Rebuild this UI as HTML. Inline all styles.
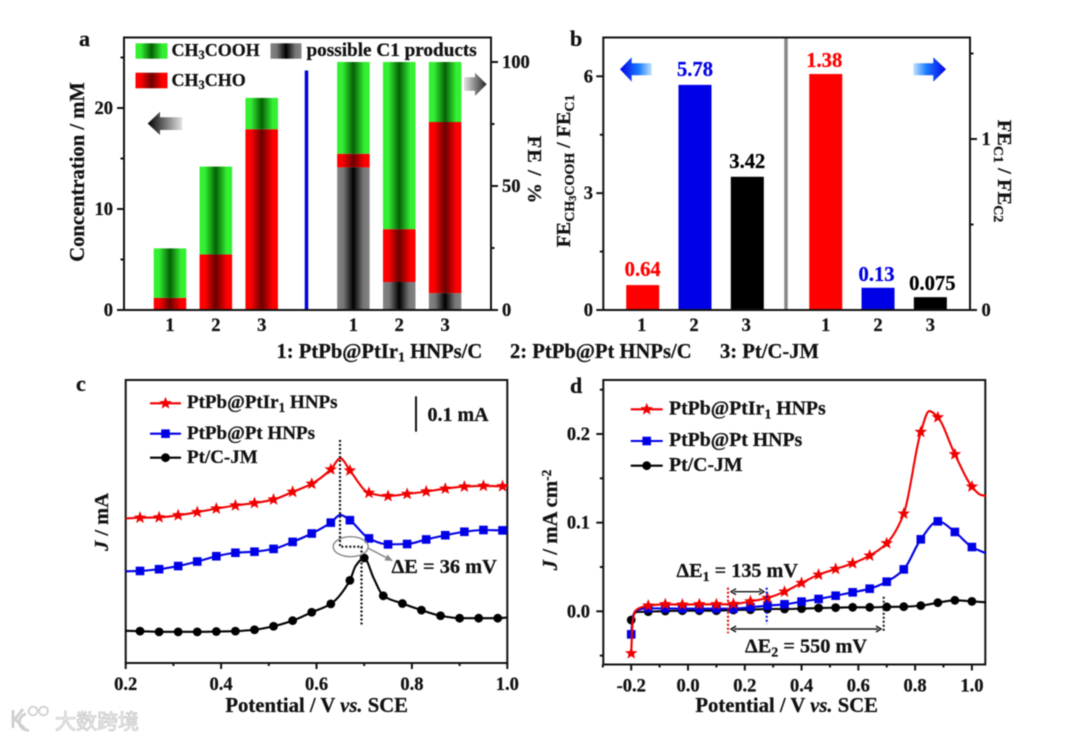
<!DOCTYPE html>
<html lang="en">
<head>
<meta charset="utf-8">
<title>Electrocatalysis composite figure</title>
<style>
html,body{margin:0;padding:0;background:#fff;}
svg{display:block;filter:blur(0.5px);}
text{font-family:"Liberation Serif","Noto Serif CJK SC",serif;font-weight:bold;fill:#111;stroke:#111;stroke-width:0.25px;}
</style>
</head>
<body>
<svg id="figure" xmlns="http://www.w3.org/2000/svg" width="1080" height="739" viewBox="0 0 1080 739">
<defs>
<linearGradient id="gGreen"><stop offset="0" stop-color="#33f033"/><stop offset=".16" stop-color="#33f033"/><stop offset=".5" stop-color="#056005"/><stop offset=".84" stop-color="#33f033"/><stop offset="1" stop-color="#33f033"/></linearGradient>
<linearGradient id="gRed"><stop offset="0" stop-color="#ff0000"/><stop offset=".16" stop-color="#ff0000"/><stop offset=".5" stop-color="#6a0000"/><stop offset=".84" stop-color="#ff0000"/><stop offset="1" stop-color="#ff0000"/></linearGradient>
<linearGradient id="gGrey"><stop offset="0" stop-color="#858585"/><stop offset=".2" stop-color="#757575"/><stop offset=".5" stop-color="#000000"/><stop offset=".8" stop-color="#757575"/><stop offset="1" stop-color="#858585"/></linearGradient>
<linearGradient id="gArrowBlackL"><stop offset="0" stop-color="#000"/><stop offset="1" stop-color="#e4e4e4"/></linearGradient>
<linearGradient id="gArrowBlackR"><stop offset="0" stop-color="#e4e4e4"/><stop offset="1" stop-color="#222"/></linearGradient>
<linearGradient id="gArrowBlueL"><stop offset="0" stop-color="#0000e8"/><stop offset=".6" stop-color="#1c7cff"/><stop offset="1" stop-color="#c4e4ff"/></linearGradient>
<linearGradient id="gArrowBlueR"><stop offset="0" stop-color="#c4e4ff"/><stop offset=".4" stop-color="#1c7cff"/><stop offset="1" stop-color="#0000e8"/></linearGradient>
</defs>
<rect x="0" y="0" width="1080" height="739" fill="#fff"/>

<!-- Panel a -->
<g id="panelA">
  <g id="aBars"></g>
  <line x1="306.5" y1="70.5" x2="306.5" y2="310" stroke="#0000e0" stroke-width="3.5"/>
  <rect x="124" y="37.5" width="367" height="272.5" fill="none" stroke="#111" stroke-width="2"/>
  <g id="aTicks"></g>
  <text x="79" y="46" font-size="22">a</text>
  <text transform="translate(84,172) rotate(-90)" text-anchor="middle" font-size="20.6">Concentration / mM</text>
  <text transform="translate(528,170) rotate(90)" text-anchor="middle" font-size="20.5" letter-spacing="1">FE / %</text>
  <rect x="135.5" y="43.3" width="32" height="15.4" fill="url(#gGreen)"/>
  <text x="171.5" y="56" font-size="18">CH<tspan font-size="12.5" dy="3">3</tspan><tspan dy="-3">COOH</tspan></text>
  <rect x="270.5" y="43.3" width="31" height="15.4" fill="url(#gGrey)"/>
  <text x="306.5" y="56" font-size="19.2">possible C1 products</text>
  <rect x="135.5" y="72.7" width="32" height="15.6" fill="url(#gRed)"/>
  <text x="171.5" y="86" font-size="18">CH<tspan font-size="12.5" dy="3">3</tspan><tspan dy="-3">CHO</tspan></text>
  <polygon points="147.7,123.5 160,111.7 160,117.3 182.3,117.3 182.3,130 160,130 160,135" fill="url(#gArrowBlackL)"/>
  <polygon points="464,77.3 475,77.3 475,72.7 486.7,84.3 475,96 475,90.7 464,90.7" fill="url(#gArrowBlackR)"/>
</g>

<!-- Panel b -->
<g id="panelB">
  <g id="bBars"></g>
  <line x1="786" y1="37.5" x2="786" y2="310" stroke="#888" stroke-width="3.5"/>
  <rect x="603.3" y="37.5" width="366.7" height="272.5" fill="none" stroke="#111" stroke-width="2"/>
  <g id="bTicks"></g>
  <text x="570" y="46" font-size="22">b</text>
  <text transform="translate(570,171) rotate(-90)" text-anchor="middle" font-size="20">FE<tspan font-size="14" dy="4">CH</tspan><tspan font-size="10.5" dy="2">3</tspan><tspan font-size="14" dy="-2">COOH</tspan><tspan dy="-4"> / FE</tspan><tspan font-size="14" dy="4">C1</tspan></text>
  <text transform="translate(998,171) rotate(90)" text-anchor="middle" font-size="20.5">FE<tspan font-size="14" dy="4">C1</tspan><tspan dy="-4"> / FE</tspan><tspan font-size="14" dy="4">C2</tspan></text>
  <polygon points="620,69.3 631.7,57.3 631.7,63.3 651.7,63.3 651.7,75.3 631.7,75.3 631.7,81.7" fill="url(#gArrowBlueL)"/>
  <polygon points="913.3,63.3 933.3,63.3 933.3,57.3 946,69.3 933.3,81.7 933.3,75.3 913.3,75.3" fill="url(#gArrowBlueR)"/>
</g>

<text y="358" font-size="20.6"><tspan x="276.5">1: PtPb@PtIr</tspan><tspan font-size="14" dy="3.5">1</tspan><tspan dy="-3.5"> HNPs/C</tspan><tspan x="510">2: PtPb@Pt HNPs/C</tspan><tspan x="720">3: Pt/C-JM</tspan></text>

<!-- Panel c -->
<g id="panelC">
  <rect x="125.7" y="380" width="381.6" height="283" fill="none" stroke="#111" stroke-width="2"/>
  <g id="cTicks"></g>
  <g id="cSeries"></g>
  <text x="76" y="391" font-size="22">c</text>
  <text transform="translate(108,522) rotate(-90)" text-anchor="middle" font-size="20.5"><tspan font-style="italic">J</tspan> / mA</text>
  <text x="316.7" y="712" text-anchor="middle" font-size="20.7">Potential / V <tspan font-style="italic">vs.</tspan> SCE</text>
  <g id="cLegend">
    <text x="187" y="408" font-size="19">PtPb@PtIr<tspan font-size="13.5" dy="4">1</tspan><tspan dy="-4"> HNPs</tspan></text>
    <text x="187" y="439" font-size="19">PtPb@Pt HNPs</text>
    <text x="187" y="463" font-size="19">Pt/C-JM</text>
  </g>
  <line x1="416" y1="396.3" x2="416" y2="431.7" stroke="#111" stroke-width="2"/>
  <text x="427.5" y="421" font-size="20">0.1 mA</text>
  <path d="M340,440 V546.7 H361.5 V625.7" fill="none" stroke="#111" stroke-width="2.2" stroke-dasharray="2 2"/>
  <ellipse cx="350.7" cy="546.7" rx="17.5" ry="10" fill="none" stroke="#888" stroke-width="1.4"/>
  <line x1="367.7" y1="548" x2="388" y2="558.5" stroke="#888" stroke-width="1.5"/>
  <polygon points="393,561 384.5,560.5 387.5,554.5" fill="#888"/>
  <text x="391.5" y="573" font-size="20.4">ΔE = 36 mV</text>
</g>

<!-- Panel d -->
<g id="panelD">
  <rect x="603.3" y="380" width="382" height="284.5" fill="none" stroke="#111" stroke-width="2"/>
  <g id="dTicks"></g>
  <g id="dSeries"></g>
  <text x="570" y="393" font-size="22">d</text>
  <text transform="translate(557,520) rotate(-90)" text-anchor="middle" font-size="20.8"><tspan font-style="italic">J</tspan> / mA cm<tspan font-size="13.5" dy="-6">-2</tspan></text>
  <text x="786.7" y="712" text-anchor="middle" font-size="20.7">Potential / V <tspan font-style="italic">vs.</tspan> SCE</text>
  <g id="dLegend">
    <text x="669" y="414.5" font-size="19.8">PtPb@PtIr<tspan font-size="14" dy="4">1</tspan><tspan dy="-4"> HNPs</tspan></text>
    <text x="669" y="446" font-size="19.8">PtPb@Pt HNPs</text>
    <text x="669" y="471" font-size="19.8">Pt/C-JM</text>
  </g>
  <line x1="728" y1="587.7" x2="728" y2="633.3" stroke="#e00000" stroke-width="2" stroke-dasharray="2 2"/>
  <line x1="766.7" y1="587.7" x2="766.7" y2="624" stroke="#0000e0" stroke-width="2" stroke-dasharray="2 2"/>
  <line x1="883.7" y1="596.7" x2="883.7" y2="632.7" stroke="#111" stroke-width="2" stroke-dasharray="2 2"/>
  <path d="M734,591.7 H761 M736,588.7 L731,591.7 L736,594.7 M759,588.7 L764,591.7 L759,594.7" fill="none" stroke="#111" stroke-width="1.4"/>
  <path d="M734,629 H878 M736,626 L731,629 L736,632 M876,626 L881,629 L876,632" fill="none" stroke="#111" stroke-width="1.4"/>
  <text x="676.5" y="577" font-size="20.2">ΔE<tspan font-size="14" dy="4">1</tspan><tspan dy="-4"> = 135 mV</tspan></text>
  <text x="745" y="652.5" font-size="20.3">ΔE<tspan font-size="14" dy="4">2</tspan><tspan dy="-4"> = 550 mV</tspan></text>
</g>

<!-- Watermark -->
<g>
  <path d="M13,710 V728 M23,709 L15,719 L25,729 M26,714 A8,8 0 0 0 29,730" fill="none" stroke="#cfcfcf" stroke-width="2.8"/>
  <circle cx="33" cy="711" r="4.4" fill="none" stroke="#cfcfcf" stroke-width="1.7"/>
  <circle cx="43.5" cy="711" r="4.4" fill="none" stroke="#cfcfcf" stroke-width="1.7"/>
  <text x="55" y="729" font-size="21" style="font-family:'Noto Sans CJK SC',sans-serif;font-weight:400;fill:#f4f4f4;stroke:#c8c8c8;stroke-width:0.8;">大数跨境</text>
</g>
</svg>

<script>
// ---------- Panel a data ----------
const aCategoryLabels = ['1', '2', '3'];
const aConcCH3CHO = [1.2, 5.5, 17.9];
const aConcCH3COOH = [4.9, 8.7, 3.1];
const aFeC1 = [57.5, 11.3, 6.8];
const aFeCH3CHO = [5.5, 21.3, 69.0];
const aFeCH3COOH = [37.0, 67.4, 24.2];
const aLeftMajorTicks = [0, 10, 20];
const aLeftMinorTicks = [5, 15, 25];
const aRightMajorTicks = [0, 50, 100];
const aRightMinorTicks = [25, 75];

// ---------- Panel b data ----------
const bCategoryLabels = ['1', '2', '3'];
const bRatioAcetic = [0.64, 5.78, 3.42];
const bRatioAceticLabels = ['0.64', '5.78', '3.42'];
const bRatioC1 = [1.38, 0.13, 0.075];
const bRatioC1Labels = ['1.38', '0.13', '0.075'];
const bSeriesColors = ['#ff0000', '#0000e6', '#000000'];
const bLeftMajorTicks = [0, 3, 6];
const bLeftMinorTicks = [1.5, 4.5];
const bRightMajorTicks = [0, 1];
const bRightMinorTicks = [0.5, 1.5];

// ---------- Panel c data ----------
const cXMajorTicks = [0.2, 0.4, 0.6, 0.8, 1.0];
const cXMinorTicks = [0.3, 0.5, 0.7, 0.9];
const cRedPotential = [0.23,0.27,0.31,0.35,0.39,0.43,0.47,0.51,0.55,0.59,0.63,0.67,0.71,0.75,0.79,0.83,0.87,0.91,0.95,0.99];
const cRedCurrent = [0.415,0.416,0.422,0.431,0.441,0.450,0.457,0.467,0.489,0.512,0.553,0.550,0.486,0.477,0.483,0.490,0.498,0.504,0.506,0.505];
const cRedExtraPotential = [0.20, 0.65, 1.00];
const cRedExtraCurrent = [0.413, 0.585, 0.505];
const cBluePotential = [0.23,0.27,0.31,0.35,0.39,0.43,0.47,0.51,0.55,0.59,0.63,0.67,0.71,0.75,0.79,0.83,0.87,0.91,0.95,0.99];
const cBlueCurrent = [0.263,0.268,0.277,0.290,0.305,0.315,0.318,0.326,0.346,0.370,0.401,0.408,0.356,0.339,0.340,0.353,0.365,0.375,0.380,0.379];
const cBlueExtraPotential = [0.20, 0.65, 1.00];
const cBlueExtraCurrent = [0.262, 0.423, 0.379];
const cBlackPotential = [0.23,0.27,0.31,0.35,0.39,0.43,0.47,0.51,0.55,0.59,0.63,0.67,0.70,0.74,0.78,0.82,0.86,0.90,0.94,0.98];
const cBlackCurrent = [0.091,0.089,0.089,0.089,0.090,0.091,0.095,0.105,0.121,0.145,0.169,0.236,0.300,0.192,0.170,0.151,0.135,0.128,0.128,0.128];
const cBlackExtraPotential = [0.20, 0.682, 0.72, 1.00];
const cBlackExtraCurrent = [0.092, 0.277, 0.242, 0.130];

// ---------- Panel d data ----------
const dXMajorTicks = [-0.2, 0.0, 0.2, 0.4, 0.6, 0.8, 1.0];
const dXMinorTicks = [-0.3, -0.1, 0.1, 0.3, 0.5, 0.7, 0.9];
const dYMajorTicks = [0.0, 0.1, 0.2];
const dYMinorTicks = [-0.05, 0.05, 0.15, 0.25];
const dPotential = [-0.20,-0.14,-0.08,-0.02,0.04,0.10,0.16,0.22,0.28,0.34,0.40,0.46,0.52,0.58,0.64,0.70,0.76,0.82,0.88,0.94,1.00];
const dRedCurrent = [-0.0474,0.0064,0.0079,0.0075,0.0079,0.0079,0.0082,0.0112,0.0150,0.0221,0.0319,0.0413,0.0477,0.0541,0.0628,0.0767,0.1101,0.2023,0.2188,0.1771,0.1406];
const dRedExtraPotential = [-0.195, -0.185, -0.165, 0.85, 1.03, 1.05];
const dRedExtraCurrent = [-0.012, 0.0005, 0.0045, 0.2259, 0.1315, 0.1301];
const dBlueCurrent = [-0.0260,0.0033,0.0033,0.0030,0.0030,0.0030,0.0030,0.0045,0.0064,0.0079,0.0109,0.0139,0.0176,0.0214,0.0255,0.0334,0.0473,0.0812,0.1015,0.0895,0.0725];
const dBlueExtraPotential = [-0.195, -0.185, 1.05];
const dBlueExtraCurrent = [-0.008, 0.0005, 0.0654];
const dBlackCurrent = [-0.0098,-0.0004,0.0003,0.0007,0.0007,0.0007,0.0015,0.0018,0.0026,0.0026,0.0030,0.0037,0.0041,0.0045,0.0045,0.0049,0.0052,0.0064,0.0097,0.0124,0.0112];
const dBlackExtraPotential = [-0.19, -0.18, 1.05];
const dBlackExtraCurrent = [-0.003, -0.0008, 0.0101];

// ---------- Axis functions ----------
const aX = i => 170 + 45.85 * i;
const aYConc = v => 310 - v * 10.1;
const aYFe = v => 310 - v * 2.48;
const bX = i => 642.7 + 52.3 * i;
const bYLeft = v => 310 - v * 38.95;
const bYRight = v => 310 - v * 171;
const cX = v => 125.7 + (v - 0.2) * 477;
const cY = v => 663 - v * 350;
const dX = v => 688 + 283.9 * v;
const dY = v => 611.3 - v * 886.5;

// ---------- Helpers ----------
const NS = 'http://www.w3.org/2000/svg';
function mk(parent, tag, attrs) {
  const el = document.createElementNS(NS, tag);
  for (const k in attrs) el.setAttribute(k, attrs[k]);
  parent.appendChild(el);
  return el;
}
function byId(id) { return document.getElementById(id); }

function yTick(parent, axisX, dir, py, len) {
  const el = mk(parent, 'line', {x1: axisX, x2: axisX + dir * len, y1: py, y2: py, stroke: '#111', 'stroke-width': 2});
  
  
}
function xTick(parent, axisY, px, len) {
  const el = mk(parent, 'line', {x1: px, x2: px, y1: axisY, y2: axisY + len, stroke: '#111', 'stroke-width': 2});
  
  
}
function tickLabel(parent, px, py, anchor, str) {
  const el = mk(parent, 'text', {x: px, y: py, 'text-anchor': anchor, 'font-size': 18.5});
  el.textContent = str;
  
  
}
function barSegment(parent, cx, w, yTop, yBottom, fill) {
  const el = mk(parent, 'rect', {x: cx - w / 2, y: yTop, width: w, height: yBottom - yTop, fill: fill});
  
  
}
function barValueLabel(parent, cx, py, color, str) {
  const el = mk(parent, 'text', {x: cx, y: py, 'text-anchor': 'middle', 'font-size': 20.6});
  el.style.fill = color;
  el.style.stroke = color;
  el.textContent = str;
  
  
}
function mergeSeries(xs, ys, ex, ey) {
  const pts = xs.map((x, i) => [x, ys[i]]).concat(ex.map((x, i) => [x, ey[i]]));
  pts.sort((p, q) => p[0] - q[0]);
  return pts;
}
// Monotone cubic curve through the pixel points
function curvePath(pts) {
  const n = pts.length, d = [], m = [];
  for (let i = 0; i < n - 1; i++) d[i] = (pts[i + 1][1] - pts[i][1]) / (pts[i + 1][0] - pts[i][0]);
  m[0] = d[0];
  m[n - 1] = d[n - 2];
  for (let i = 1; i < n - 1; i++) {
    if (d[i - 1] * d[i] <= 0) { m[i] = 0; }
    else {
      const h0 = pts[i][0] - pts[i - 1][0], h1 = pts[i + 1][0] - pts[i][0];
      m[i] = 3 * (h0 + h1) / ((2 * h1 + h0) / d[i - 1] + (h1 + 2 * h0) / d[i]);
    }
  }
  let s = 'M' + pts[0][0].toFixed(2) + ',' + pts[0][1].toFixed(2);
  for (let i = 0; i < n - 1; i++) {
    const h = (pts[i + 1][0] - pts[i][0]) / 3;
    s += 'C' + (pts[i][0] + h).toFixed(2) + ',' + (pts[i][1] + m[i] * h).toFixed(2) + ' ' +
         (pts[i + 1][0] - h).toFixed(2) + ',' + (pts[i + 1][1] - m[i + 1] * h).toFixed(2) + ' ' +
         pts[i + 1][0].toFixed(2) + ',' + pts[i + 1][1].toFixed(2);
  }
  return s;
}
function starPoints(px, py, r) {
  const out = [];
  for (let k = 0; k < 10; k++) {
    const rad = k % 2 ? r * 0.42 : r, a = -Math.PI / 2 + k * Math.PI / 5;
    out.push((px + rad * Math.cos(a)).toFixed(2) + ',' + (py + rad * Math.sin(a)).toFixed(2));
  }
  return out.join(' ');
}
function starMarker(parent, px, py) {
  const el = mk(parent, 'polygon', {points: starPoints(px, py, 6.6), fill: '#f00000'});
  
  
}
function squareMarker(parent, px, py) {
  const el = mk(parent, 'rect', {x: px - 4.3, y: py - 4.3, width: 8.6, height: 8.6, fill: '#0000e6'});
  
  
}
function circleMarker(parent, px, py) {
  const el = mk(parent, 'circle', {cx: px, cy: py, r: 4.4, fill: '#000'});
  
  
}
function seriesLine(parent, pts, xf, yf, color) {
  const el = mk(parent, 'path', {d: curvePath(pts.map(p => [xf(p[0]), yf(p[1])])), fill: 'none', stroke: color, 'stroke-width': 2.1});
  
  
}
function legendLine(parent, x1, x2, py, color) {
  const el = mk(parent, 'line', {x1: x1, x2: x2, y1: py, y2: py, stroke: color, 'stroke-width': 2.1});
  
  
}

// ---------- Panel a ----------
(function () {
  const g = byId('aBars'), t = byId('aTicks');
  aCategoryLabels.forEach((lab, i) => {
    const cx = aX(i);
    const red = aConcCH3CHO[i], green = aConcCH3COOH[i];
    barSegment(g, cx, 32.5, aYConc(red), aYConc(0), 'url(#gRed)');
    barSegment(g, cx, 32.5, aYConc(red + green), aYConc(red), 'url(#gGreen)');
    tickLabel(t, cx, 331, 'middle', lab);
  });
  aCategoryLabels.forEach((lab, i) => {
    const cx = aX(i + 4);
    const c1 = aFeC1[i], red = aFeCH3CHO[i], green = aFeCH3COOH[i];
    barSegment(g, cx, 32.5, aYFe(c1), aYFe(0), 'url(#gGrey)');
    barSegment(g, cx, 32.5, aYFe(c1 + red), aYFe(c1), 'url(#gRed)');
    barSegment(g, cx, 32.5, aYFe(c1 + red + green), aYFe(c1 + red), 'url(#gGreen)');
    tickLabel(t, cx, 331, 'middle', lab);
  });
  aLeftMajorTicks.forEach(v => {
    yTick(t, 124, -1, aYConc(v), 7);
    tickLabel(t, 113, aYConc(v) + 6, 'end', String(v));
  });
  aLeftMinorTicks.forEach(v => yTick(t, 124, -1, aYConc(v), 3.5));
  aRightMajorTicks.forEach(v => {
    yTick(t, 491, 1, aYFe(v), 7);
    tickLabel(t, 502, aYFe(v) + 6, 'start', String(v));
  });
  aRightMinorTicks.forEach(v => yTick(t, 491, 1, aYFe(v), 3.5));
})();

// ---------- Panel b ----------
(function () {
  const g = byId('bBars'), t = byId('bTicks');
  bCategoryLabels.forEach((lab, i) => {
    const cx = bX(i);
    const el = mk(g, 'rect', {x: cx - 16.5, y: bYLeft(bRatioAcetic[i]), width: 33, height: bYLeft(0) - bYLeft(bRatioAcetic[i]), fill: bSeriesColors[i]});
    
    
    barValueLabel(g, cx, bYLeft(bRatioAcetic[i]) - 9, bSeriesColors[i], bRatioAceticLabels[i]);
    tickLabel(t, cx - 1, 331, 'middle', lab);
  });
  bCategoryLabels.forEach((lab, i) => {
    const cx = bX(i + 3.5);
    const el = mk(g, 'rect', {x: cx - 16.5, y: bYRight(bRatioC1[i]), width: 33, height: bYRight(0) - bYRight(bRatioC1[i]), fill: bSeriesColors[i]});
    
    
    barValueLabel(g, cx - (i === 2 ? -2 : 1.5), bYRight(bRatioC1[i]) - 7, bSeriesColors[i], bRatioC1Labels[i]);
    tickLabel(t, cx, 331, 'middle', lab);
  });
  bLeftMajorTicks.forEach(v => {
    yTick(t, 603.3, -1, bYLeft(v), 7);
    tickLabel(t, 593, bYLeft(v) + 6, 'end', String(v));
  });
  bLeftMinorTicks.forEach(v => yTick(t, 603.3, -1, bYLeft(v), 3.5));
  bRightMajorTicks.forEach(v => {
    yTick(t, 970, 1, bYRight(v), 7);
    tickLabel(t, 981.5, bYRight(v) + 6, 'start', String(v));
  });
  bRightMinorTicks.forEach(v => yTick(t, 970, 1, bYRight(v), 3.5));
})();

// ---------- Panel c ----------
(function () {
  const t = byId('cTicks'), s = byId('cSeries'), l = byId('cLegend');
  cXMajorTicks.forEach(v => {
    xTick(t, 663, cX(v), 6);
    tickLabel(t, cX(v), 690, 'middle', v.toFixed(1));
  });
  cXMinorTicks.forEach(v => xTick(t, 663, cX(v), 3));

  seriesLine(s, mergeSeries(cBlackPotential, cBlackCurrent, cBlackExtraPotential, cBlackExtraCurrent), cX, cY, '#000');
  cBlackPotential.forEach((v, i) => circleMarker(s, cX(v), cY(cBlackCurrent[i])));
  seriesLine(s, mergeSeries(cBluePotential, cBlueCurrent, cBlueExtraPotential, cBlueExtraCurrent), cX, cY, '#0000e6');
  cBluePotential.forEach((v, i) => squareMarker(s, cX(v), cY(cBlueCurrent[i])));
  seriesLine(s, mergeSeries(cRedPotential, cRedCurrent, cRedExtraPotential, cRedExtraCurrent), cX, cY, '#f00000');
  cRedPotential.forEach((v, i) => starMarker(s, cX(v), cY(cRedCurrent[i])));

  legendLine(l, 150, 181, 403.3, '#f00000');
  starMarker(l, 165.5, 403.3);
  legendLine(l, 150, 181, 433.7, '#0000e6');
  squareMarker(l, 165.5, 433.7);
  legendLine(l, 150, 181, 457.7, '#000');
  circleMarker(l, 165.5, 457.7);
})();

// ---------- Panel d ----------
(function () {
  const t = byId('dTicks'), s = byId('dSeries'), l = byId('dLegend');
  dXMajorTicks.forEach(v => {
    xTick(t, 664.5, dX(v), 6);
    tickLabel(t, dX(v), 691.5, 'middle', v.toFixed(1));
  });
  dXMinorTicks.forEach(v => xTick(t, 664.5, dX(v), 3));
  dYMajorTicks.forEach(v => {
    yTick(t, 603.3, -1, dY(v), 7);
    tickLabel(t, 590, dY(v) + 6, 'end', v.toFixed(1));
  });
  dYMinorTicks.forEach(v => yTick(t, 603.3, -1, dY(v), 3.5));

  seriesLine(s, mergeSeries(dPotential, dBlackCurrent, dBlackExtraPotential, dBlackExtraCurrent), dX, dY, '#000');
  dPotential.forEach((v, i) => circleMarker(s, dX(v), dY(dBlackCurrent[i])));
  seriesLine(s, mergeSeries(dPotential, dBlueCurrent, dBlueExtraPotential, dBlueExtraCurrent), dX, dY, '#0000e6');
  dPotential.forEach((v, i) => squareMarker(s, dX(v), dY(dBlueCurrent[i])));
  seriesLine(s, mergeSeries(dPotential, dRedCurrent, dRedExtraPotential, dRedExtraCurrent), dX, dY, '#f00000');
  dPotential.forEach((v, i) => starMarker(s, dX(v), dY(dRedCurrent[i])));

  legendLine(l, 630.7, 662.7, 409.3, '#f00000');
  starMarker(l, 646.7, 409.3);
  legendLine(l, 630.7, 662.7, 441, '#0000e6');
  squareMarker(l, 646.7, 441);
  legendLine(l, 630.7, 662.7, 465.7, '#000');
  circleMarker(l, 646.7, 465.7);
})();
</script>
</body>
</html>
